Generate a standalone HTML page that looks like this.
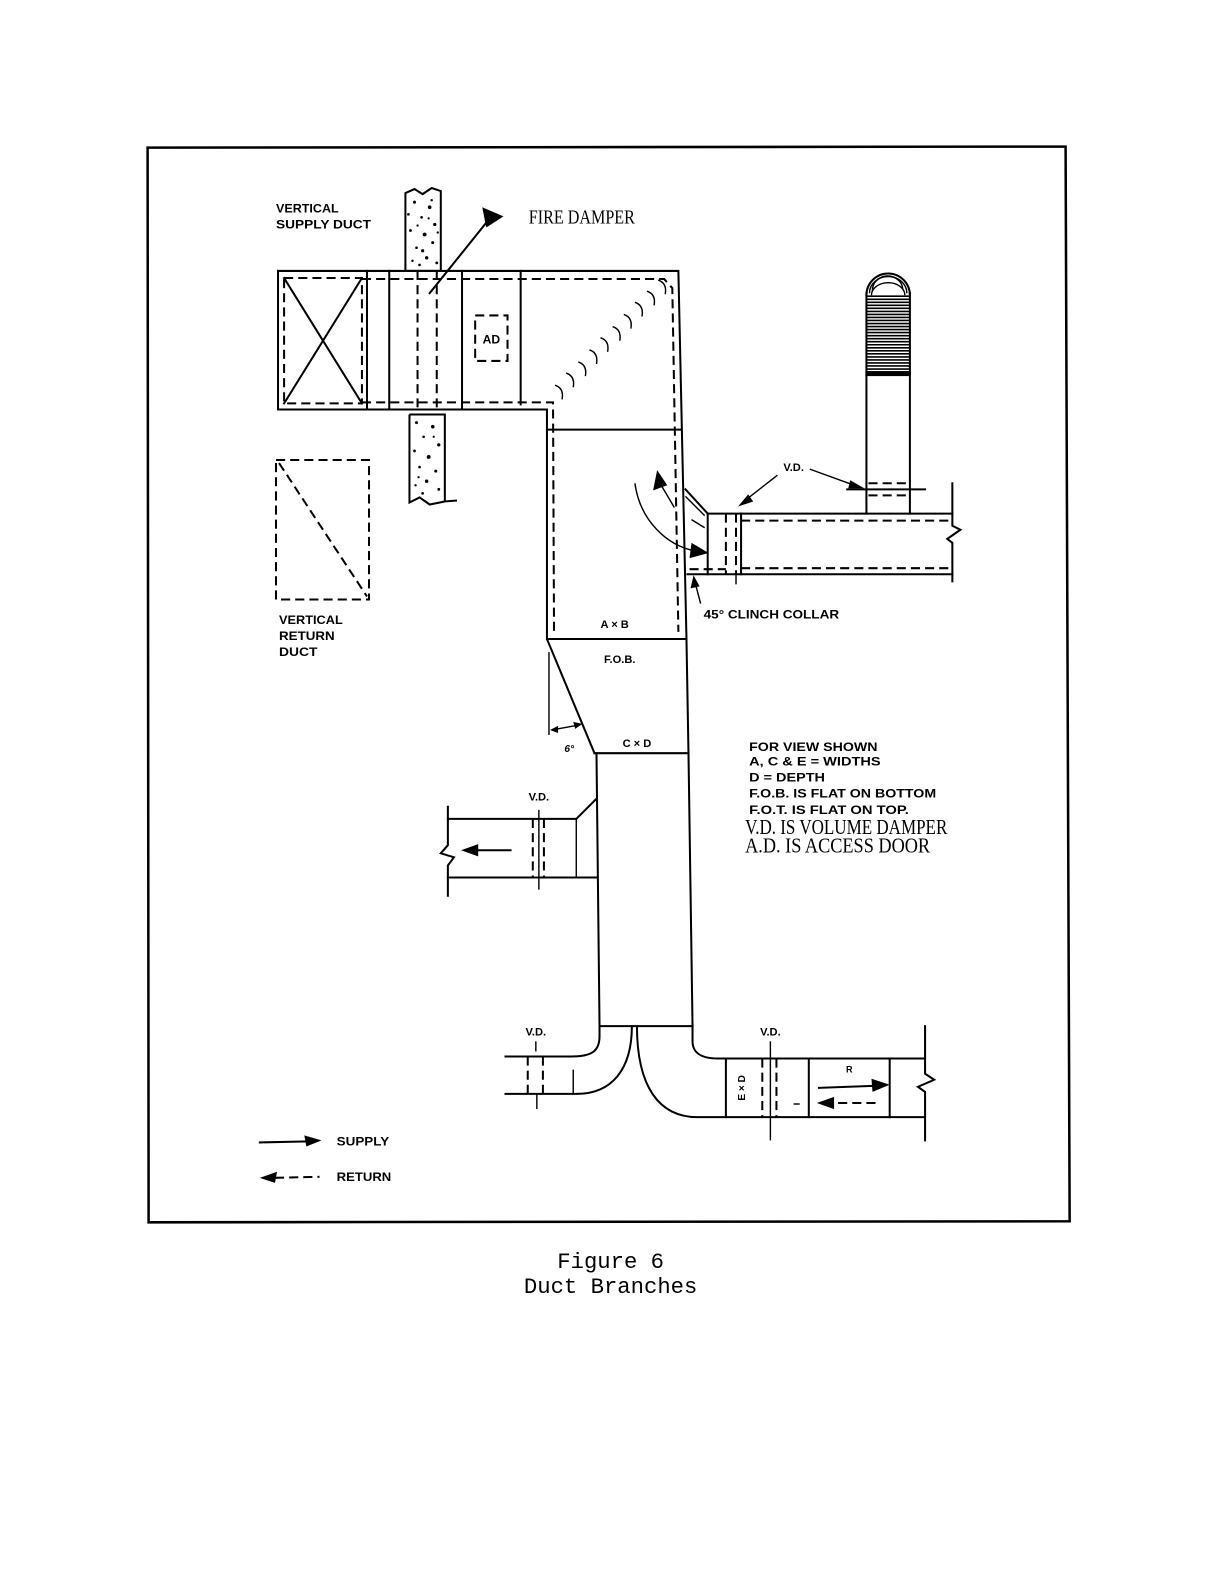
<!DOCTYPE html>
<html><head><meta charset="utf-8">
<style>
html,body{margin:0;padding:0;background:#fff;}
svg{display:block;}
.s{stroke:#000;stroke-width:2;fill:none;stroke-linecap:square}
.t{stroke:#000;stroke-width:1.4;fill:none}
.d{stroke:#000;stroke-width:2;fill:none;stroke-dasharray:9 5}
.lb{font-family:"Liberation Sans",Arial,sans-serif;font-weight:bold;fill:#000}
.sf{font-family:"Liberation Serif","Times New Roman",serif;fill:#000}
.mn{font-family:"Liberation Mono","Courier New",monospace;fill:#000}
</style></head><body>
<svg width="1225" height="1585" viewBox="0 0 1225 1585" xmlns="http://www.w3.org/2000/svg">
<g transform="scale(1.011)">
<!-- frame -->
<polygon points="146,146 1054,145 1058,1208 147,1209" fill="none" stroke="#000" stroke-width="2.5"/>

<!-- labels top-left -->
<text class="lb" x="273" y="210" font-size="12" textLength="62" lengthAdjust="spacingAndGlyphs">VERTICAL</text>
<text class="lb" x="273" y="226" font-size="12" textLength="94" lengthAdjust="spacingAndGlyphs">SUPPLY DUCT</text>

<!-- fire damper -->
<text class="sf" x="523" y="221" font-size="20" textLength="105" lengthAdjust="spacingAndGlyphs">FIRE DAMPER</text>
<line class="s" x1="425" y1="290" x2="482" y2="219"/>
<polygon points="477,205 498,214 481,225" fill="#000"/>

<!-- upper wall -->
<path d="M401,191 L410,187 L418,192 L427,186 L436,189 L436,268 L401,268 Z" fill="#fff" stroke="#000" stroke-width="2"/>
<g fill="#000">
<circle cx="410" cy="200" r="1.5"/><circle cx="425" cy="205" r="1.8"/><circle cx="417" cy="215" r="1.3"/><circle cx="430" cy="222" r="1.6"/>
<circle cx="406" cy="228" r="1.4"/><circle cx="420" cy="232" r="1.9"/><circle cx="412" cy="245" r="1.3"/><circle cx="428" cy="240" r="1.5"/>
<circle cx="422" cy="255" r="1.7"/><circle cx="408" cy="258" r="1.2"/><circle cx="432" cy="260" r="1.4"/><circle cx="415" cy="262" r="1.3"/>
<circle cx="427" cy="198" r="1.2"/><circle cx="404" cy="212" r="1.3"/><circle cx="418" cy="248" r="1.6"/><circle cx="433" cy="230" r="1.2"/>
<circle cx="413" cy="223" r="1.1"/><circle cx="424" cy="216" r="1.1"/>
</g>

<!-- lower wall -->
<path d="M405,410 L440,410 L440,496 L452,495 M405,410 L405,497 L415,492 L425,499 L440,496" fill="none" stroke="#000" stroke-width="2"/>
<g fill="#000">
<circle cx="412" cy="418" r="1.5"/><circle cx="428" cy="422" r="1.8"/><circle cx="419" cy="432" r="1.3"/><circle cx="434" cy="440" r="1.6"/>
<circle cx="410" cy="446" r="1.4"/><circle cx="424" cy="452" r="1.9"/><circle cx="415" cy="462" r="1.3"/><circle cx="431" cy="466" r="1.5"/>
<circle cx="422" cy="476" r="1.7"/><circle cx="411" cy="480" r="1.2"/><circle cx="434" cy="484" r="1.4"/><circle cx="418" cy="488" r="1.3"/>
<circle cx="429" cy="432" r="1.1"/><circle cx="414" cy="472" r="1.1"/>
</g>

<!-- vertical return duct -->
<rect class="d" x="273" y="455" width="92" height="138"/>
<line class="d" x1="276" y1="458" x2="363" y2="590" stroke-width="1.8"/>
<text class="lb" x="276" y="617" font-size="12" textLength="63" lengthAdjust="spacingAndGlyphs">VERTICAL</text>
<text class="lb" x="276" y="633" font-size="12" textLength="55" lengthAdjust="spacingAndGlyphs">RETURN</text>
<text class="lb" x="276" y="649" font-size="12" textLength="38" lengthAdjust="spacingAndGlyphs">DUCT</text>

<!-- top duct outline -->
<path class="s" d="M275,268 L671,268 L679,632 L681,745 L685,1015"/>
<path class="s" d="M275,268 L275,405 L541,405 L541,632 L588,745 L590,745 L593,1015"/>
<!-- X box -->
<rect class="d" x="281" y="275" width="77" height="124"/>
<line class="s" x1="281" y1="275" x2="358" y2="399" stroke-width="1.8"/>
<line class="s" x1="358" y1="275" x2="281" y2="399" stroke-width="1.8"/>
<line class="s" x1="363" y1="268" x2="363" y2="405"/>
<line class="s" x1="385" y1="268" x2="385" y2="405"/>
<line class="d" x1="413" y1="268" x2="413" y2="405" stroke-width="2.4"/>
<line class="d" x1="432" y1="268" x2="432" y2="405" stroke-width="2.4"/>
<line class="s" x1="457" y1="268" x2="457" y2="405"/>
<line class="s" x1="515" y1="268" x2="515" y2="400"/>
<!-- inner dashed -->
<path class="d" d="M358,276 L657,276 L665,285 L671,625"/>
<path class="d" d="M358,398 L547,398 L548,625"/>
<!-- AD -->
<rect class="d" x="470" y="312" width="32" height="45" stroke-width="1.8" stroke-dasharray="7 4"/>
<text class="lb" x="486" y="340" font-size="12" text-anchor="middle">AD</text>
<!-- turning vanes -->
<g class="t" stroke-width="1.8">
<path d="M549,381 Q558,384 556,395"/>
<path d="M560,369 Q569,372 567,383"/>
<path d="M572,358 Q581,361 579,372"/>
<path d="M583,346 Q592,349 590,360"/>
<path d="M594,334 Q603,337 601,348"/>
<path d="M606,323 Q615,326 613,337"/>
<path d="M617,311 Q626,314 624,325"/>
<path d="M628,299 Q637,302 635,313"/>
<path d="M640,288 Q649,291 647,302"/>
<path d="M651,277 Q660,280 658,291"/>
</g>
<!-- joint line -->
<line class="s" x1="541" y1="425" x2="673" y2="425"/>
<text class="lb" x="608" y="621" font-size="11" text-anchor="middle">A × B</text>
<line class="s" x1="541" y1="632" x2="679" y2="632"/>
<text class="lb" x="613" y="656" font-size="11" text-anchor="middle">F.O.B.</text>
<!-- angle -->
<line class="t" x1="543" y1="645" x2="543" y2="727"/>
<line class="t" x1="546" y1="722" x2="573" y2="717"/>
<polygon points="544,722 552,718 552,725" fill="#000"/>
<polygon points="576,716 567,714 569,721" fill="#000"/>
<text class="lb" x="563" y="744" font-size="10" font-style="italic" text-anchor="middle">6°</text>
<text class="lb" x="630" y="739" font-size="11" text-anchor="middle">C × D</text>
<line class="s" x1="588" y1="745" x2="681" y2="745"/>

<!-- left branch -->
<path class="s" d="M443,810 L570,810 L590,790"/>
<line class="s" x1="443" y1="868" x2="591" y2="868"/>
<line class="t" x1="570" y1="810" x2="570" y2="868"/>
<line class="d" x1="527" y1="810" x2="527" y2="868" stroke-dasharray="6 3"/>
<line class="d" x1="538" y1="810" x2="538" y2="868" stroke-dasharray="6 3"/>
<line class="t" x1="533" y1="801" x2="533" y2="880"/>
<path class="s" d="M443,798 L443,836 L436,844 L449,848 L443,856 L443,886"/>
<line class="s" x1="505" y1="841" x2="470" y2="841"/>
<polygon points="456,841 473,835 473,847" fill="#000"/>
<text class="lb" x="533" y="792" font-size="11" text-anchor="middle">V.D.</text>

<!-- bottom of lower section -->
<line class="s" x1="593" y1="1015" x2="685" y2="1015"/>
<!-- bottom left branch -->
<path class="s" d="M593,1015 L593,1025 C593,1040 585,1045 565,1045 L500,1045"/>
<path class="s" d="M500,1082 L570,1082 C605,1082 625,1058 625,1015"/>
<line class="d" x1="522" y1="1045" x2="522" y2="1082" stroke-dasharray="6 3"/>
<line class="d" x1="537" y1="1045" x2="537" y2="1082" stroke-dasharray="6 3"/>
<line class="t" x1="530" y1="1030" x2="530" y2="1040"/>
<line class="t" x1="531" y1="1082" x2="531" y2="1097"/>
<line class="t" x1="567" y1="1058" x2="567" y2="1082"/>
<text class="lb" x="530" y="1024" font-size="11" text-anchor="middle">V.D.</text>
<!-- bottom right branch -->
<path class="s" d="M630,1015 C630,1075 652,1105 690,1105 L915,1105"/>
<path class="s" d="M685,1015 L685,1030 C685,1042 695,1047 710,1047 L915,1047"/>
<path class="s" d="M915,1015 L915,1062 L924,1068 L908,1075 L915,1080 L915,1128"/>
<line class="s" x1="718" y1="1047" x2="718" y2="1105"/>
<text class="lb" font-size="10" text-anchor="middle" transform="translate(737,1076) rotate(-90)">E × D</text>
<line class="d" x1="754" y1="1047" x2="754" y2="1105" stroke-dasharray="6 3"/>
<line class="d" x1="768" y1="1047" x2="768" y2="1105" stroke-dasharray="6 3"/>
<line class="t" x1="762" y1="1030" x2="762" y2="1128"/>
<line class="t" x1="785" y1="1092" x2="791" y2="1092"/>
<line class="s" x1="800" y1="1047" x2="800" y2="1105"/>
<line class="s" x1="880" y1="1047" x2="880" y2="1105"/>
<text class="lb" x="840" y="1061" font-size="9" text-anchor="middle">R</text>
<line class="s" x1="810" y1="1076" x2="866" y2="1074"/>
<polygon points="880,1073 862,1067 863,1080" fill="#000"/>
<line class="d" x1="866" y1="1091" x2="824" y2="1091" stroke-dasharray="5 3"/>
<polygon points="808,1091 825,1085 825,1097" fill="#000"/>
<text class="lb" x="762" y="1024" font-size="11" text-anchor="middle">V.D.</text>

<!-- right upper branch -->
<line class="s" x1="678" y1="484" x2="700" y2="508"/>
<line class="t" x1="678" y1="491" x2="697" y2="510"/>
<line class="t" x1="684" y1="514" x2="697" y2="522"/>
<line class="s" x1="700" y1="508" x2="700" y2="568"/>
<line class="s" x1="700" y1="508" x2="942" y2="508"/>
<line class="s" x1="680" y1="568" x2="942" y2="568"/>
<line class="d" x1="733" y1="515" x2="940" y2="515"/>
<line class="d" x1="733" y1="562" x2="940" y2="562"/>
<line class="d" x1="682" y1="563" x2="718" y2="563" stroke-dasharray="6 3"/>
<line class="d" x1="718" y1="508" x2="718" y2="568" stroke-dasharray="6 3"/>
<line class="d" x1="728" y1="508" x2="728" y2="568" stroke-dasharray="6 3"/>
<line class="t" x1="728" y1="568" x2="728" y2="578"/>
<line class="s" x1="733" y1="508" x2="733" y2="568"/>
<path class="s" d="M942,478 L942,520 L950,524 L937,533 L942,537 L942,575"/>
<!-- airflow arrows -->
<path class="t" d="M628,478 C633,515 660,540 688,545"/>
<polygon points="701,547 684,537 682,552" fill="#000"/>
<line class="t" x1="667" y1="502" x2="654" y2="480"/>
<polygon points="650,465 646,485 660,480" fill="#000"/>
<!-- clinch collar label -->
<line class="t" x1="693" y1="597" x2="688" y2="578"/>
<polygon points="686,569 683,582 692,580" fill="#000"/>
<text class="lb" x="696" y="612" font-size="12" textLength="134" lengthAdjust="spacingAndGlyphs">45° CLINCH COLLAR</text>

<!-- stack -->
<line class="s" x1="857" y1="290" x2="857" y2="508"/>
<line class="s" x1="900" y1="290" x2="900" y2="508"/>
<path class="s" d="M857,292 A21.5,21.5 0 0 1 900,292" stroke-width="2.4"/>
<path class="t" d="M860,290 A18,16 0 0 1 897,290"/>
<path class="t" d="M862,292 A16,12 0 0 1 895,292"/>
<path class="t" d="M863,288 A15,14 0 0 1 893,286"/>
<g stroke="#000" stroke-width="1.6">
<line x1="857" y1="293" x2="900" y2="293"/><line x1="857" y1="296" x2="900" y2="296"/>
<line x1="857" y1="299" x2="900" y2="299"/><line x1="857" y1="302" x2="900" y2="302"/>
<line x1="857" y1="305" x2="900" y2="305"/><line x1="857" y1="308" x2="900" y2="308"/>
<line x1="857" y1="311" x2="900" y2="311"/><line x1="857" y1="314" x2="900" y2="314"/>
<line x1="857" y1="317" x2="900" y2="317"/><line x1="857" y1="320" x2="900" y2="320"/>
<line x1="857" y1="323" x2="900" y2="323"/><line x1="857" y1="326" x2="900" y2="326"/>
<line x1="857" y1="329" x2="900" y2="329"/><line x1="857" y1="332" x2="900" y2="332"/>
<line x1="857" y1="335" x2="900" y2="335"/><line x1="857" y1="338" x2="900" y2="338"/>
<line x1="857" y1="341" x2="900" y2="341"/><line x1="857" y1="344" x2="900" y2="344"/>
<line x1="857" y1="347" x2="900" y2="347"/><line x1="857" y1="350" x2="900" y2="350"/>
<line x1="857" y1="353" x2="900" y2="353"/><line x1="857" y1="356" x2="900" y2="356"/>
<line x1="857" y1="359" x2="900" y2="359"/><line x1="857" y1="362" x2="900" y2="362"/>
<line x1="857" y1="365" x2="900" y2="365"/>
</g>
<rect x="856" y="367" width="45" height="5" fill="#000"/>
<line class="d" x1="859" y1="478" x2="899" y2="478" stroke-dasharray="6 3"/>
<line class="s" x1="838" y1="484" x2="915" y2="484"/>
<line class="d" x1="859" y1="490" x2="899" y2="490" stroke-dasharray="6 3"/>
<text class="lb" x="785" y="466" font-size="11" text-anchor="middle">V.D.</text>
<line class="t" x1="769" y1="470" x2="737" y2="495"/>
<polygon points="730,501 740,489 745,496" fill="#000"/>
<line class="t" x1="801" y1="464" x2="845" y2="480"/>
<polygon points="855,483 841,475 839,483" fill="#000"/>

<!-- notes -->
<text class="lb" x="741" y="743" font-size="12" textLength="127" lengthAdjust="spacingAndGlyphs">FOR VIEW SHOWN</text>
<text class="lb" x="741" y="757" font-size="12" textLength="130" lengthAdjust="spacingAndGlyphs">A, C &amp; E = WIDTHS</text>
<text class="lb" x="741" y="773" font-size="12" textLength="75" lengthAdjust="spacingAndGlyphs">D = DEPTH</text>
<text class="lb" x="741" y="789" font-size="12" textLength="185" lengthAdjust="spacingAndGlyphs">F.O.B. IS FLAT ON BOTTOM</text>
<text class="lb" x="741" y="805" font-size="12" textLength="158" lengthAdjust="spacingAndGlyphs">F.O.T. IS FLAT ON TOP.</text>
<text class="sf" x="737" y="825" font-size="21" textLength="200" lengthAdjust="spacingAndGlyphs">V.D. IS VOLUME DAMPER</text>
<text class="sf" x="737" y="843" font-size="21" textLength="183" lengthAdjust="spacingAndGlyphs">A.D. IS ACCESS DOOR</text>

<!-- legend -->
<line class="s" x1="257" y1="1130" x2="305" y2="1129"/>
<polygon points="318,1128 301,1123 303,1134" fill="#000"/>
<text class="lb" x="333" y="1133" font-size="12" textLength="52" lengthAdjust="spacingAndGlyphs">SUPPLY</text>
<polygon points="257,1165 274,1159 272,1170" fill="#000"/>
<line class="d" x1="272" y1="1165" x2="316" y2="1164" stroke-dasharray="6 4"/>
<text class="lb" x="333" y="1168" font-size="12" textLength="54" lengthAdjust="spacingAndGlyphs">RETURN</text>

<!-- caption -->
<text class="mn" x="604" y="1254" font-size="22" text-anchor="middle">Figure 6</text>
<text class="mn" x="604" y="1279" font-size="22" text-anchor="middle">Duct Branches</text>
</g>
</svg>
</body></html>
